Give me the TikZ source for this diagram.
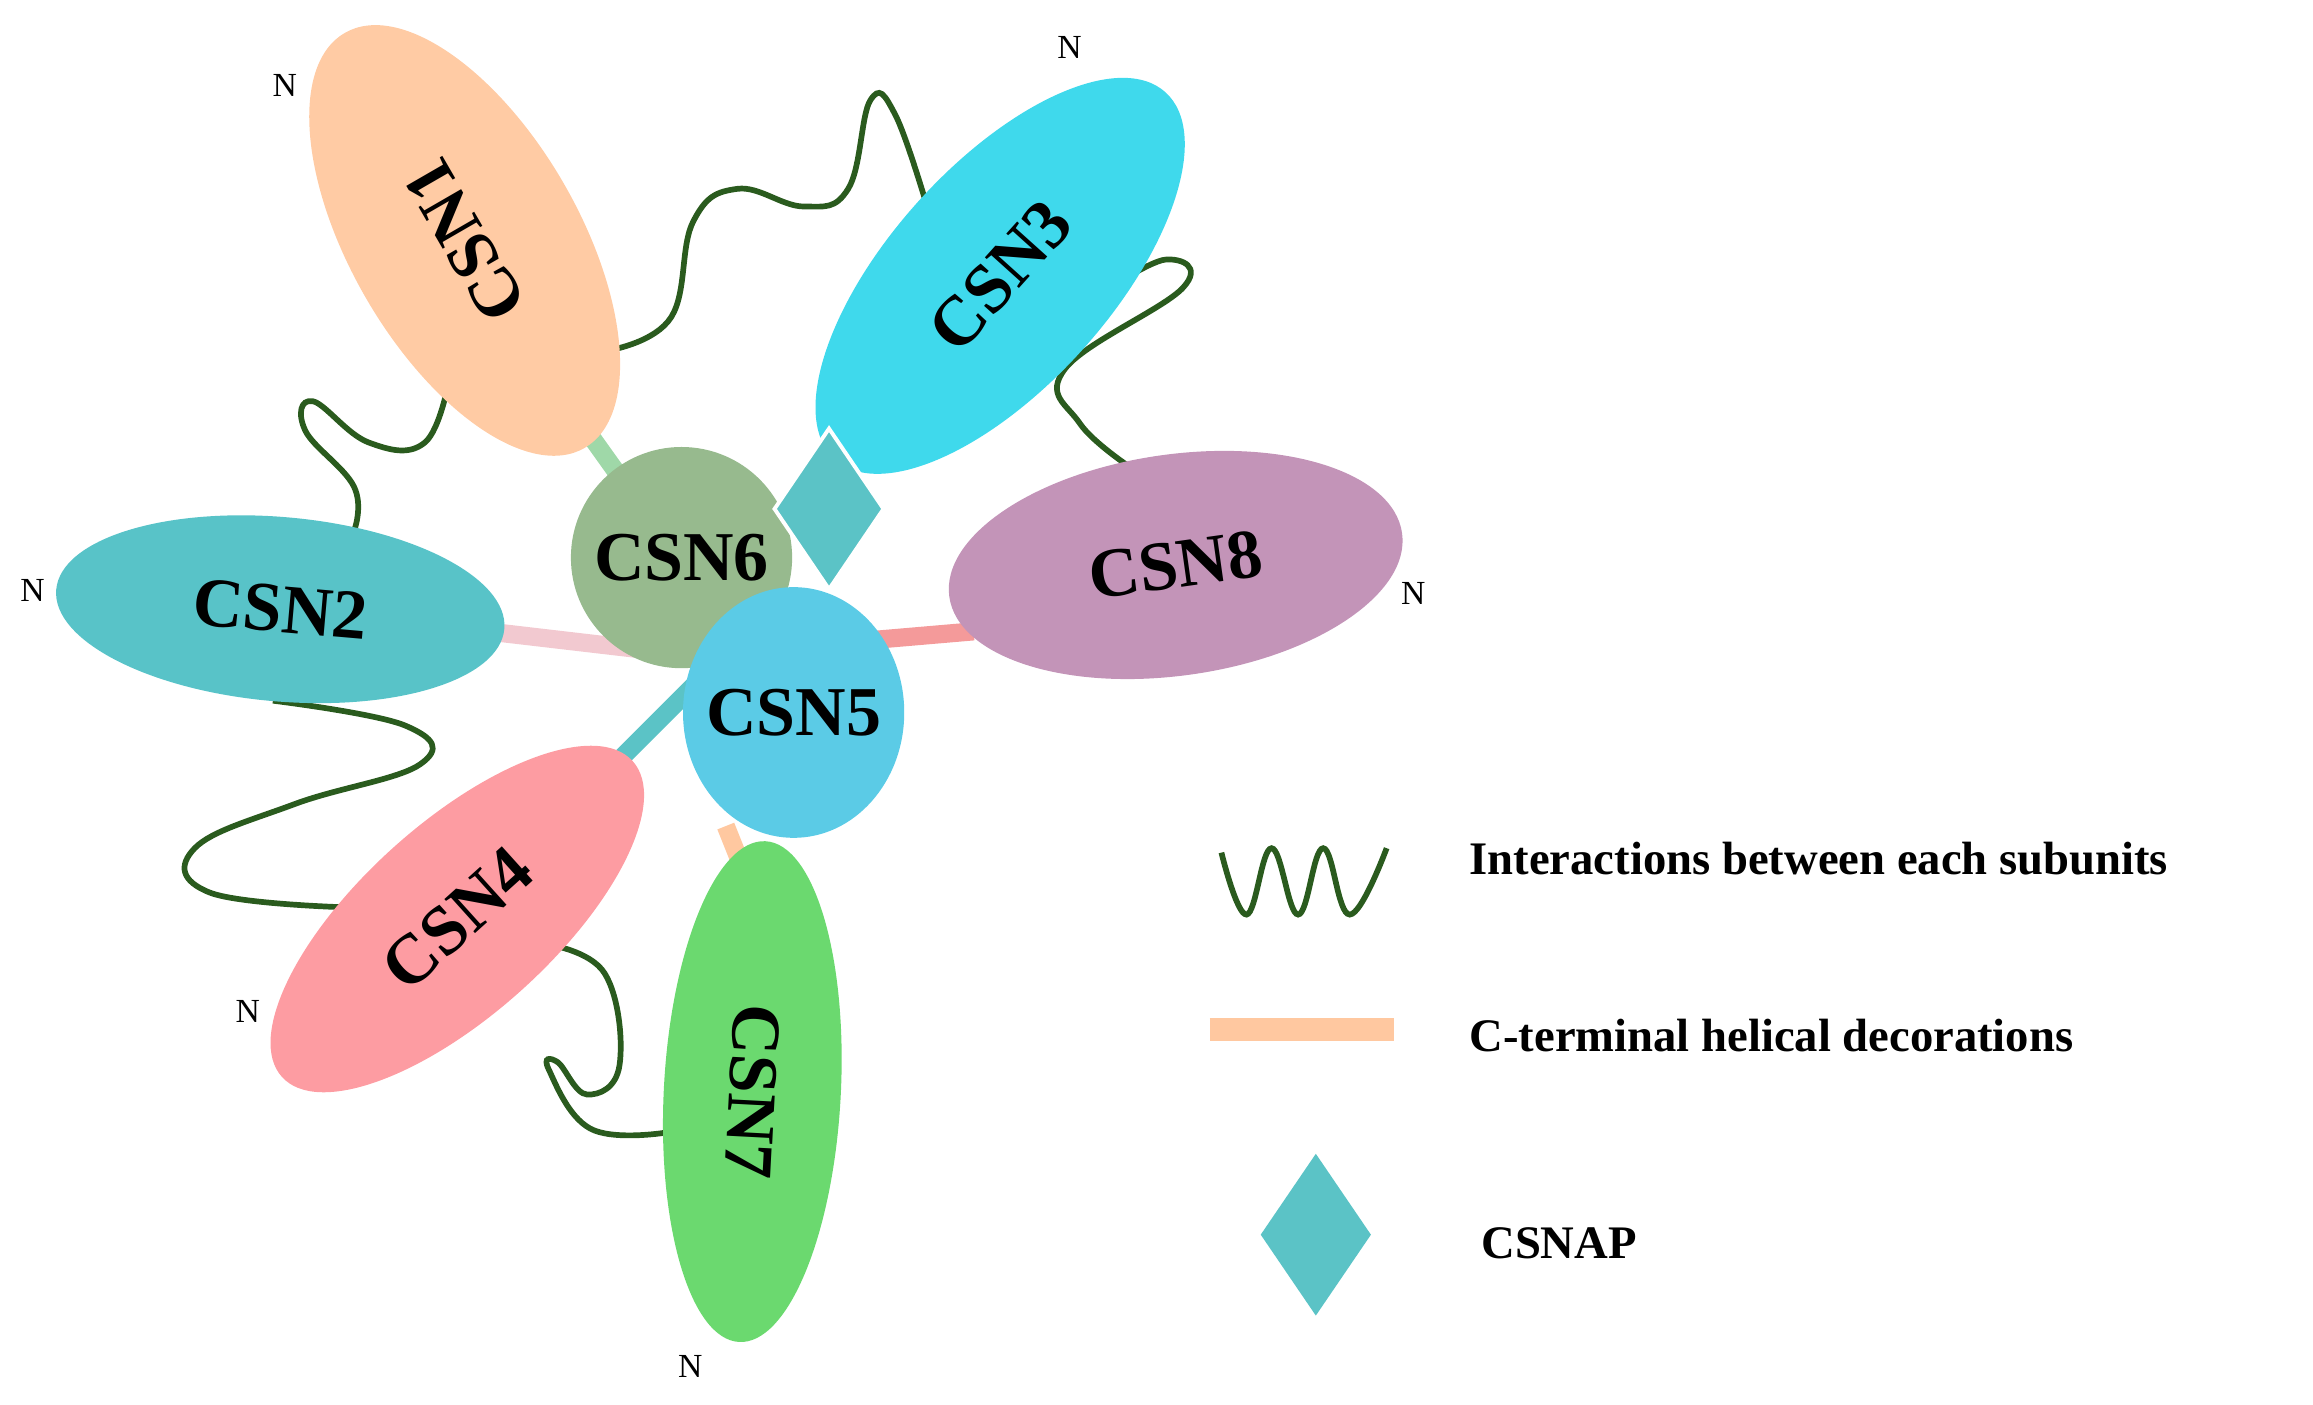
\documentclass[tikz,border=0pt]{standalone}
\usepackage{fontspec}
\setmainfont{Liberation Serif}
\usetikzlibrary{shapes.geometric}
\definecolor{wv}{HTML}{2A5B1E}
\tikzset{
 sub/.style={ellipse,draw=none,inner sep=0pt,font=\fontsize{27}{29}\selectfont\bfseries},
 nn/.style={font=\fontsize{13}{14}\selectfont},
 wave/.style={draw=wv,line width=2.2pt,smooth,tension=0.7},
 bar/.style={line width=7pt},
 leg/.style={font=\fontsize{18}{21}\selectfont\bfseries,anchor=west}
}
\begin{document}
\begin{tikzpicture}[x=0.02cm,y=-0.02cm]
\useasboundingbox (0,0) rectangle (1568,952);
% bars
\draw[bar,color={rgb,255:red,159;green,216;blue,168}] (400,295) -- (425,330);
\draw[bar,color={rgb,255:red,242;green,201;blue,208}] (330,428) -- (450,442);
\draw[bar,color={rgb,255:red,244;green,154;blue,154}] (590,434) -- (660,428);
\draw[bar,color={rgb,255:red,91;green,195;blue,198}] (410,525) -- (480,455);
\draw[bar,color={rgb,255:red,255;green,200;blue,160}] (492,560) -- (502,585);
% waves
\draw[wave] plot coordinates {(415,237)(455,215)(470,150)(500,128)(545,140)(575,128)(590,68)(607,78)(630,145)};
\draw[wave] plot coordinates {(745,200)(790,176)(802,195)(722,250)(732,287)(768,318)};
\draw[wave] plot coordinates {(305,255)(288,300)(250,300)(212,272)(207,292)(240,330)(240,360)};
\draw[wave] plot coordinates {(185,475)(275,492)(285,518)(200,545)(132,575)(142,605)(232,615)};
\draw[wave] plot coordinates {(370,640)(410,660)(420,722)(398,742)(378,720)(372,725)(400,765)(450,768)};
% subunits
\node[sub,fill={rgb,255:red,255;green,203;blue,164},minimum width=6.5cm,minimum height=3.1cm,rotate=120] (c1) at (315,163) {CSN1};
\node[sub,fill={rgb,255:red,63;green,217;blue,236},minimum width=6.7cm,minimum height=3.0cm,rotate=48] (c3) at (678,187) {CSN3};
\node[sub,fill={rgb,255:red,195;green,148;blue,184},minimum width=6.2cm,minimum height=3cm,rotate=8] (c8) at (797,383) {CSN8};
\node[sub,fill={rgb,255:red,88;green,195;blue,200},minimum width=6.1cm,minimum height=2.5cm,rotate=-5] (c2) at (190,413) {CSN2};
\node[sub,inner sep=-14pt,fill={rgb,255:red,151;green,186;blue,142},minimum width=3cm,minimum height=3cm] (c6) at (462,378) {CSN6};
\node[sub,inner sep=-14pt,fill={rgb,255:red,91;green,203;blue,230},minimum width=3cm,minimum height=3.4cm] (c5) at (538,483) {CSN5};
\node[sub,fill={rgb,255:red,253;green,156;blue,162},minimum width=6.4cm,minimum height=2.6cm,rotate=42] (c4) at (310,623) {CSN4};
\node[sub,fill={rgb,255:red,107;green,217;blue,111},minimum width=6.8cm,minimum height=2.4cm,rotate=-93] (c7) at (510,740) {CSN7};
\node[diamond,fill={rgb,255:red,91;green,195;blue,198},draw=white,line width=1.5pt,minimum width=1.5cm,minimum height=2.2cm,inner sep=0pt,aspect=0.68] (ap) at (562,345) {};
% N labels
\node[nn] at (193,58) {N};
\node[nn] at (725,32) {N};
\node[nn] at (958,402) {N};
\node[nn] at (22,400) {N};
\node[nn] at (168,686) {N};
\node[nn] at (468,926) {N};
% legend
\draw[wave] plot coordinates {(828,578)(845,620)(862,575)(880,620)(897,575)(915,620)(940,575)};
\draw[line width=9pt,color={rgb,255:red,255;green,200;blue,160}] (820,698) -- (945,698);
\node[diamond,fill={rgb,255:red,91;green,195;blue,198},minimum width=1.5cm,minimum height=2.2cm,inner sep=0pt,aspect=0.68] (ld) at (892,837) {};
\node[leg] (l1) at (990,582) {Interactions between each subunits};
\node[leg] (l2) at (990,702) {C-terminal helical decorations};
\node[leg] (l3) at (998,843) {CSNAP};
\end{tikzpicture}
\end{document}
